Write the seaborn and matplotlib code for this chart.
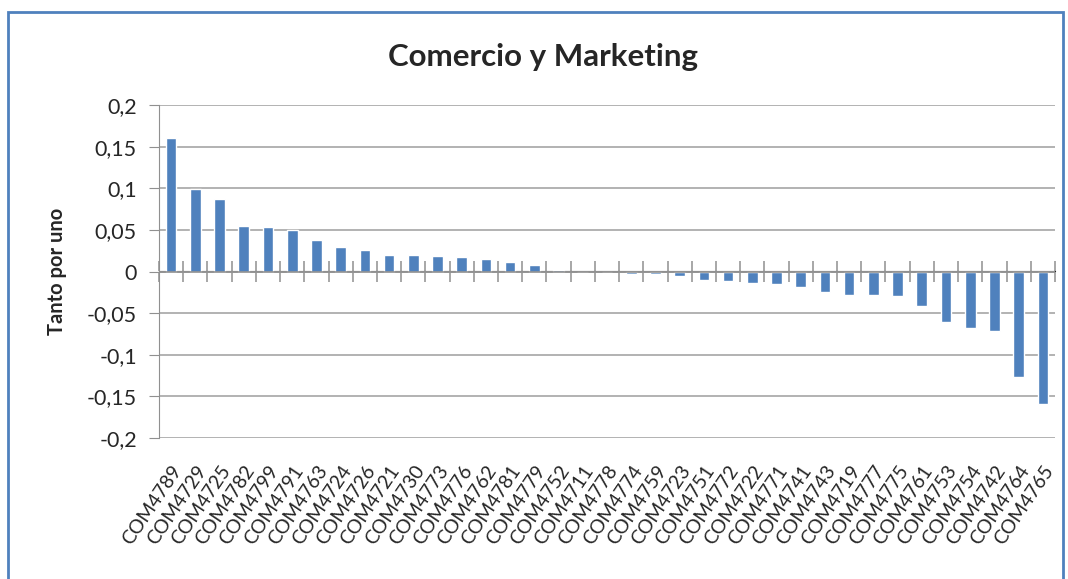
import numpy as np
import pandas as pd
import matplotlib
matplotlib.use("Agg")
import matplotlib.pyplot as plt
import matplotlib.patches as patches
from matplotlib.ticker import FuncFormatter
import seaborn as sns

# Datos
codigos = ["COM4789", "COM4729", "COM4725", "COM4782", "COM4799", "COM4791",
           "COM4763", "COM4724", "COM4726", "COM4721", "COM4730", "COM4773",
           "COM4776", "COM4762", "COM4781", "COM4779", "COM4752", "COM4711",
           "COM4778", "COM4774", "COM4759", "COM4723", "COM4751", "COM4772",
           "COM4722", "COM4771", "COM4741", "COM4743", "COM4719", "COM4777",
           "COM4775", "COM4761", "COM4753", "COM4754", "COM4742", "COM4764",
           "COM4765"]
valores = [0.160, 0.099, 0.087, 0.055, 0.054, 0.050, 0.038, 0.029, 0.026,
           0.020, 0.020, 0.019, 0.018, 0.015, 0.012, 0.008, 0.002, 0.0,
           0.0, -0.003, -0.003, -0.005, -0.010, -0.012, -0.014, -0.015,
           -0.019, -0.025, -0.028, -0.028, -0.029, -0.041, -0.061, -0.068,
           -0.072, -0.127, -0.159]
ticks_y = [-0.2, -0.15, -0.1, -0.05, 0, 0.05, 0.1, 0.15, 0.2]

df = pd.DataFrame({"codigo": codigos, "valor": valores})

sns.set_style("white")
plt.rcParams["font.family"] = ["Lato", "DejaVu Sans"]

fig = plt.figure(figsize=(10.68, 5.79), dpi=100)
ax = fig.add_axes([159 / 1068, 1 - 438 / 579, (1055 - 159) / 1068, (438 - 105) / 579])

sns.barplot(data=df, x="codigo", y="valor", color="#4F81BD", saturation=1,
            width=0.44, ax=ax)

ax.set_ylim(-0.2, 0.2)
ax.set_xlim(-0.5, len(codigos) - 0.5)
ax.set_yticks(ticks_y)


def coma(v, pos):
    if abs(v) < 1e-9:
        return "0"
    return f"{v:g}".replace(".", ",")


ax.yaxis.set_major_formatter(FuncFormatter(coma))
ax.grid(axis="y", color="#A6A6A6", linewidth=1.2)
ax.set_axisbelow(True)
for s in ["top", "right", "bottom"]:
    ax.spines[s].set_visible(False)
ax.spines["left"].set_color("#909090")
ax.tick_params(axis="y", left=True, direction="out", length=7, color="#909090",
               labelsize=15.5, pad=9)
ax.tick_params(axis="x", bottom=False, labelsize=14, pad=14)
plt.setp(ax.get_xticklabels(), rotation=56, ha="right", va="top",
         rotation_mode="anchor")

# eje de categorias en el cero
ax.axhline(0, color="#909090", linewidth=1.2, zorder=1)
limites = np.arange(len(codigos) + 1) - 0.5
sec = ax.secondary_xaxis(0.5)
sec.set_xticks(limites, labels=[""] * len(limites))
sec.tick_params(bottom=True, direction="out", length=7, width=1.1,
                color="#909090")
sec.spines["bottom"].set_visible(False)

ax.set_xlabel("")
ax.set_ylabel("Tanto por uno", fontsize=14.5, fontweight="bold", labelpad=14)
fig.suptitle("Comercio y Marketing", x=0.508, y=0.925, fontsize=22.5,
             fontweight="bold")

# borde del area del grafico
fig.patches.append(patches.Rectangle((8 / 1068, -0.05), (1063 - 8) / 1068,
                                     1.05 - 12 / 579, transform=fig.transFigure,
                                     fill=False, edgecolor="#4F81BD",
                                     linewidth=2))

fig.savefig("out.png", dpi=100)
